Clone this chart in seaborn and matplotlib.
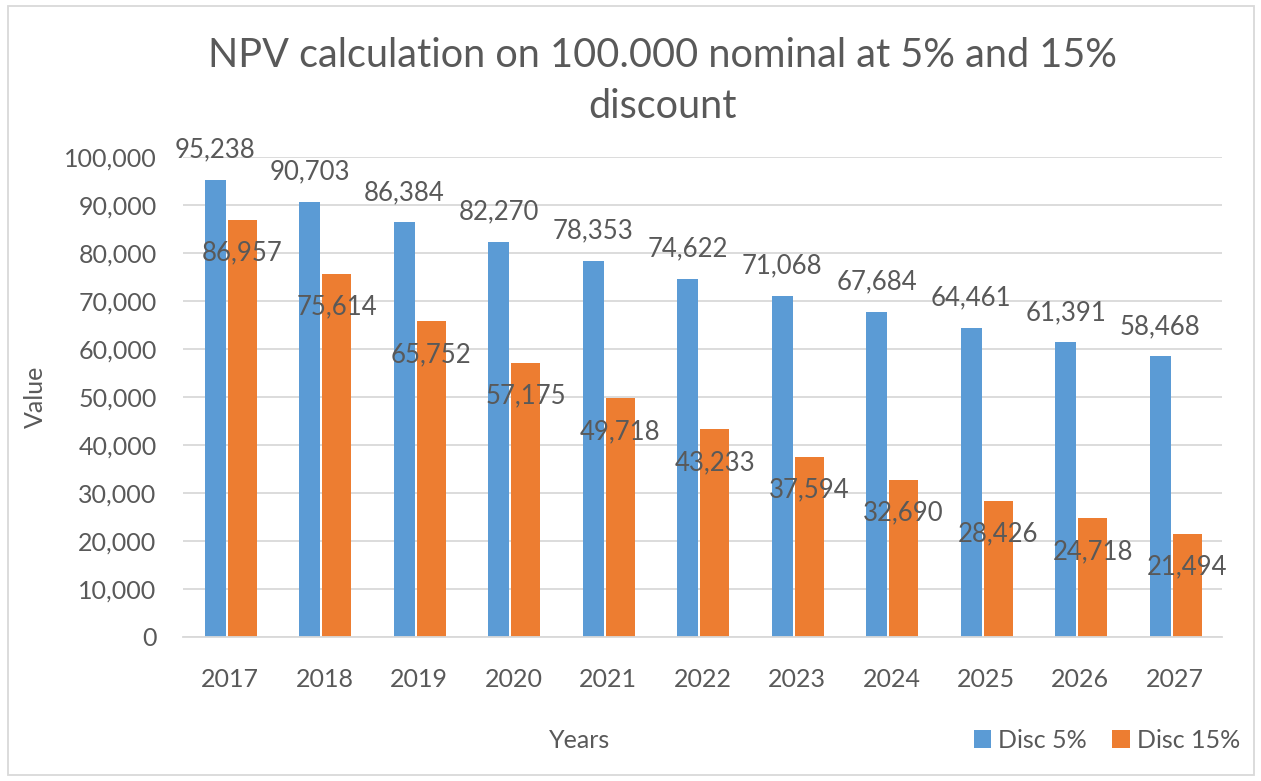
import matplotlib
matplotlib.use("Agg")
import matplotlib.pyplot as plt
import seaborn as sns
import pandas as pd
from matplotlib.patches import Rectangle, Patch

years = ["2017", "2018", "2019", "2020", "2021", "2022", "2023", "2024", "2025", "2026", "2027"]
disc5 = [95238, 90703, 86384, 82270, 78353, 74622, 71068, 67684, 64461, 61391, 58468]
disc15 = [86957, 75614, 65752, 57175, 49718, 43233, 37594, 32690, 28426, 24718, 21494]
series = ["Disc 5%", "Disc 15%"]
colors = ["#5B9BD5", "#ED7D31"]

sns.set_theme(style="white")
plt.rcParams["font.family"] = ["Lato", "DejaVu Sans"]
txt = "#595959"

df = pd.DataFrame({
    "Years": years * 2,
    "Value": disc5 + disc15,
    "Series": [series[0]] * len(years) + [series[1]] * len(years),
})

fig = plt.figure(figsize=(12.61, 7.81), dpi=100)
ax = fig.add_axes([183/1261, 1-637/781, (1222-183)/1261, (637-157)/781])

sns.barplot(data=df, x="Years", y="Value", hue="Series", palette=colors,
            ax=ax, legend=False, saturation=1, edgecolor="none")

# adjust bar geometry to match the reference
geom = [(-0.267, 0.222), (-0.024, 0.307)]
for ci, cont in enumerate(ax.containers):
    off, w = geom[ci]
    for j, bar in enumerate(cont.patches):
        bar.set_x(j + off)
        bar.set_width(w)

ax.set_xlim(-0.5, len(years) - 0.5)
ax.set_ylim(0, 100000)
ax.set_yticks(range(0, 100001, 10000))
ax.set_yticklabels([f"{v:,}" for v in range(0, 100001, 10000)])
ax.yaxis.grid(True, color="#D9D9D9", lw=1.3)
ax.set_axisbelow(True)
for s in ["left", "right", "top"]:
    ax.spines[s].set_visible(False)
ax.spines["bottom"].set_color("#D9D9D9")
ax.spines["bottom"].set_linewidth(1.3)
ax.tick_params(axis="both", length=0, labelsize=18, colors=txt)
ax.tick_params(axis="x", pad=22)
ax.tick_params(axis="y", pad=19)
ax.set_xlabel("")
ax.set_ylabel("")

# data labels
for ci, cont in enumerate(ax.containers):
    vals = disc5 if ci == 0 else disc15
    dy = 21.6 if ci == 0 else -23.8
    for bar, v in zip(cont.patches, vals):
        cx = bar.get_x() + bar.get_width() / 2
        ax.annotate(f"{v:,}", (cx, v), xytext=(0, dy), textcoords="offset points",
                    ha="center", va="center", fontsize=18.5, color=txt,
                    annotation_clip=False)

fig.text(662/1261, 1-81/781, "NPV calculation on 100.000 nominal at 5% and 15%\ndiscount",
         ha="center", va="center", fontsize=28.5, color=txt, linespacing=1.45)
fig.text(35/1261, 1-397/781, "Value", rotation=90, ha="center", va="center",
         fontsize=18, color=txt)
fig.text(580/1261, 1-740/781, "Years", ha="center", va="center", fontsize=18, color=txt)

handles = [Patch(facecolor=c, edgecolor="none", label=l) for c, l in zip(colors, series)]
fig.legend(handles=handles, loc="center", bbox_to_anchor=(1107/1261, 1-740/781),
           ncol=2, frameon=False, fontsize=18, labelcolor=txt,
           handlelength=0.7, handleheight=0.7, handletextpad=0.3, columnspacing=1.0)

fig.patches.append(Rectangle((8/1261, 6/781), (1254-8)/1261, (775-6)/781,
                             transform=fig.transFigure, fill=False,
                             edgecolor="#D9D9D9", lw=1.3))

fig.savefig("out.png", dpi=100)
